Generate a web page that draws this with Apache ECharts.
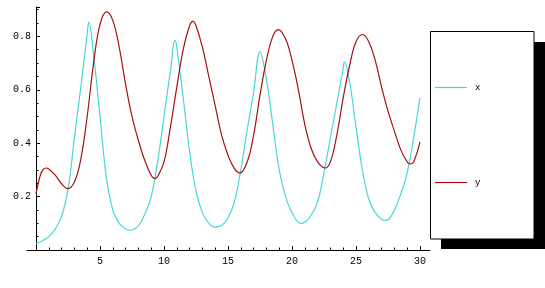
<!DOCTYPE html>
<html><head><meta charset="utf-8">
<script src="https://cdn.jsdelivr.net/npm/echarts@6/dist/echarts.min.js"></script>
<style>html,body{margin:0;padding:0;background:#fff}#c{width:545px;height:288px}</style>
</head><body><div id="c"></div>
<script>
// Series x (cyan): [t, value]
const tX = [0,0.5,1,1.5,2,2.5,3,3.5,4,4.12,4.5,5,5.5,6,6.5,7,7.34,7.5,8,8.5,9,9.5,10,10.5,10.86,11,11.5,12,12.5,13,13.5,13.98,14.5,15,15.5,16,16.5,17,17.5,18,18.5,19,19.5,20,20.68,21,21.5,22,22.5,23,23.5,24,24.09,24.5,25,25.5,26,26.5,27,27.27,27.5,28,28.5,29,29.5,30];
const xVals = [0.024,0.035,0.05,0.078,0.125,0.225,0.42,0.61,0.81,0.853,0.73,0.50,0.27,0.15,0.10,0.08,0.074,0.075,0.09,0.135,0.20,0.33,0.50,0.67,0.786,0.76,0.57,0.37,0.22,0.14,0.10,0.086,0.092,0.12,0.18,0.30,0.45,0.59,0.742,0.64,0.47,0.30,0.20,0.14,0.100,0.104,0.13,0.18,0.29,0.42,0.55,0.68,0.705,0.63,0.46,0.30,0.19,0.14,0.115,0.111,0.113,0.15,0.21,0.29,0.42,0.57];
// Series y (red): [t, value]
const tY = [0,0.25,0.5,0.78,1,1.5,2,2.47,3,3.5,4,4.5,5,5.52,6,6.5,7,7.5,8,8.5,9,9.3,9.5,10,10.5,11,11.5,12,12.27,12.5,13,13.5,14,14.5,15,15.5,15.94,16.5,17,17.5,18,18.5,18.93,19.5,20,20.5,21,21.5,22,22.58,23,23.5,24,24.5,25,25.52,26,26.5,27,27.5,28,28.5,29,29.22,29.5,30];
const yVals = [0.21,0.265,0.298,0.307,0.303,0.28,0.248,0.230,0.255,0.34,0.50,0.70,0.845,0.892,0.86,0.76,0.62,0.50,0.41,0.335,0.28,0.267,0.275,0.33,0.46,0.61,0.75,0.84,0.856,0.84,0.76,0.65,0.54,0.43,0.355,0.305,0.289,0.33,0.43,0.58,0.71,0.80,0.825,0.79,0.71,0.60,0.47,0.38,0.33,0.307,0.33,0.43,0.57,0.69,0.78,0.807,0.78,0.71,0.61,0.52,0.445,0.375,0.33,0.322,0.33,0.405];
const seriesNames = ['x', 'y'];
const xTickInterval = 5;
const yTickInterval = 0.2;

const font = 'Liberation Mono';
const chart = echarts.init(document.getElementById('c'), null, {renderer: 'canvas'});
chart.setOption({
  animation: false,
  backgroundColor: '#fff',
  grid: [
    {left: 36, right: 125, top: 7, bottom: 38},
    {left: 27, right: 115, top: 7, bottom: 38}
  ],
  graphic: [
    {type: 'rect', z: 1, shape: {x: 441, y: 42, width: 104, height: 207}, style: {fill: '#000'}},
    {type: 'rect', z: 2, shape: {x: 430.5, y: 31.5, width: 103.5, height: 207.5}, style: {fill: '#fff', stroke: '#000', lineWidth: 1}}
  ],
  xAxis: [
    {type: 'value', gridIndex: 0, min: 0, max: 30, interval: xTickInterval,
     axisLine: {show: false}, splitLine: {show: false},
     axisTick: {show: true, inside: true, length: 4, lineStyle: {color: '#000'}},
     minorTick: {show: true, splitNumber: 5, length: 2.5, lineStyle: {color: '#000'}},
     axisLabel: {fontFamily: font, fontSize: 10, color: '#000', margin: 6,
       formatter: v => v === 0 ? '' : String(v)}},
    {type: 'value', gridIndex: 1, min: 0, max: 1,
     axisLine: {show: true, lineStyle: {color: '#000', width: 1}},
     axisTick: {show: false}, axisLabel: {show: false}, splitLine: {show: false}}
  ],
  yAxis: [
    {type: 'value', gridIndex: 0, min: 0, max: 0.91, interval: yTickInterval,
     axisLine: {show: true, lineStyle: {color: '#000', width: 1}}, splitLine: {show: false},
     axisTick: {show: true, inside: true, length: 4, lineStyle: {color: '#000'}},
     minorTick: {show: true, splitNumber: 4, length: 2.5, lineStyle: {color: '#000'}},
     axisLabel: {fontFamily: font, fontSize: 10, color: '#000', margin: 5, showMaxLabel: false,
       formatter: v => v === 0 ? '' : v.toFixed(1)}},
    {type: 'value', gridIndex: 1, show: false, min: 0, max: 1}
  ],
  legend: {
    orient: 'vertical', left: 435, top: 83, z: 10,
    padding: 0, itemGap: 86,
    itemWidth: 32, itemHeight: 10,
    textStyle: {fontFamily: font, fontSize: 9, color: '#000', padding: [0, 0, 0, 3]},
    data: seriesNames.map(n => ({name: n, icon: 'path://M0,4.4L32,4.4L32,5.6L0,5.6Z'}))
  },
  series: [
    {name: seriesNames[0], type: 'line', xAxisIndex: 0, yAxisIndex: 0, smooth: 0.4, showSymbol: false,
     data: tX.map((t, i) => [t, xVals[i]]), lineStyle: {color: '#46d8d8', width: 1.2}, itemStyle: {color: '#46d8d8'}},
    {name: seriesNames[1], type: 'line', xAxisIndex: 0, yAxisIndex: 0, smooth: 0.4, showSymbol: false,
     data: tY.map((t, i) => [t, yVals[i]]), lineStyle: {color: '#a51010', width: 1.2}, itemStyle: {color: '#a51010'}}
  ]
});
</script></body></html>
